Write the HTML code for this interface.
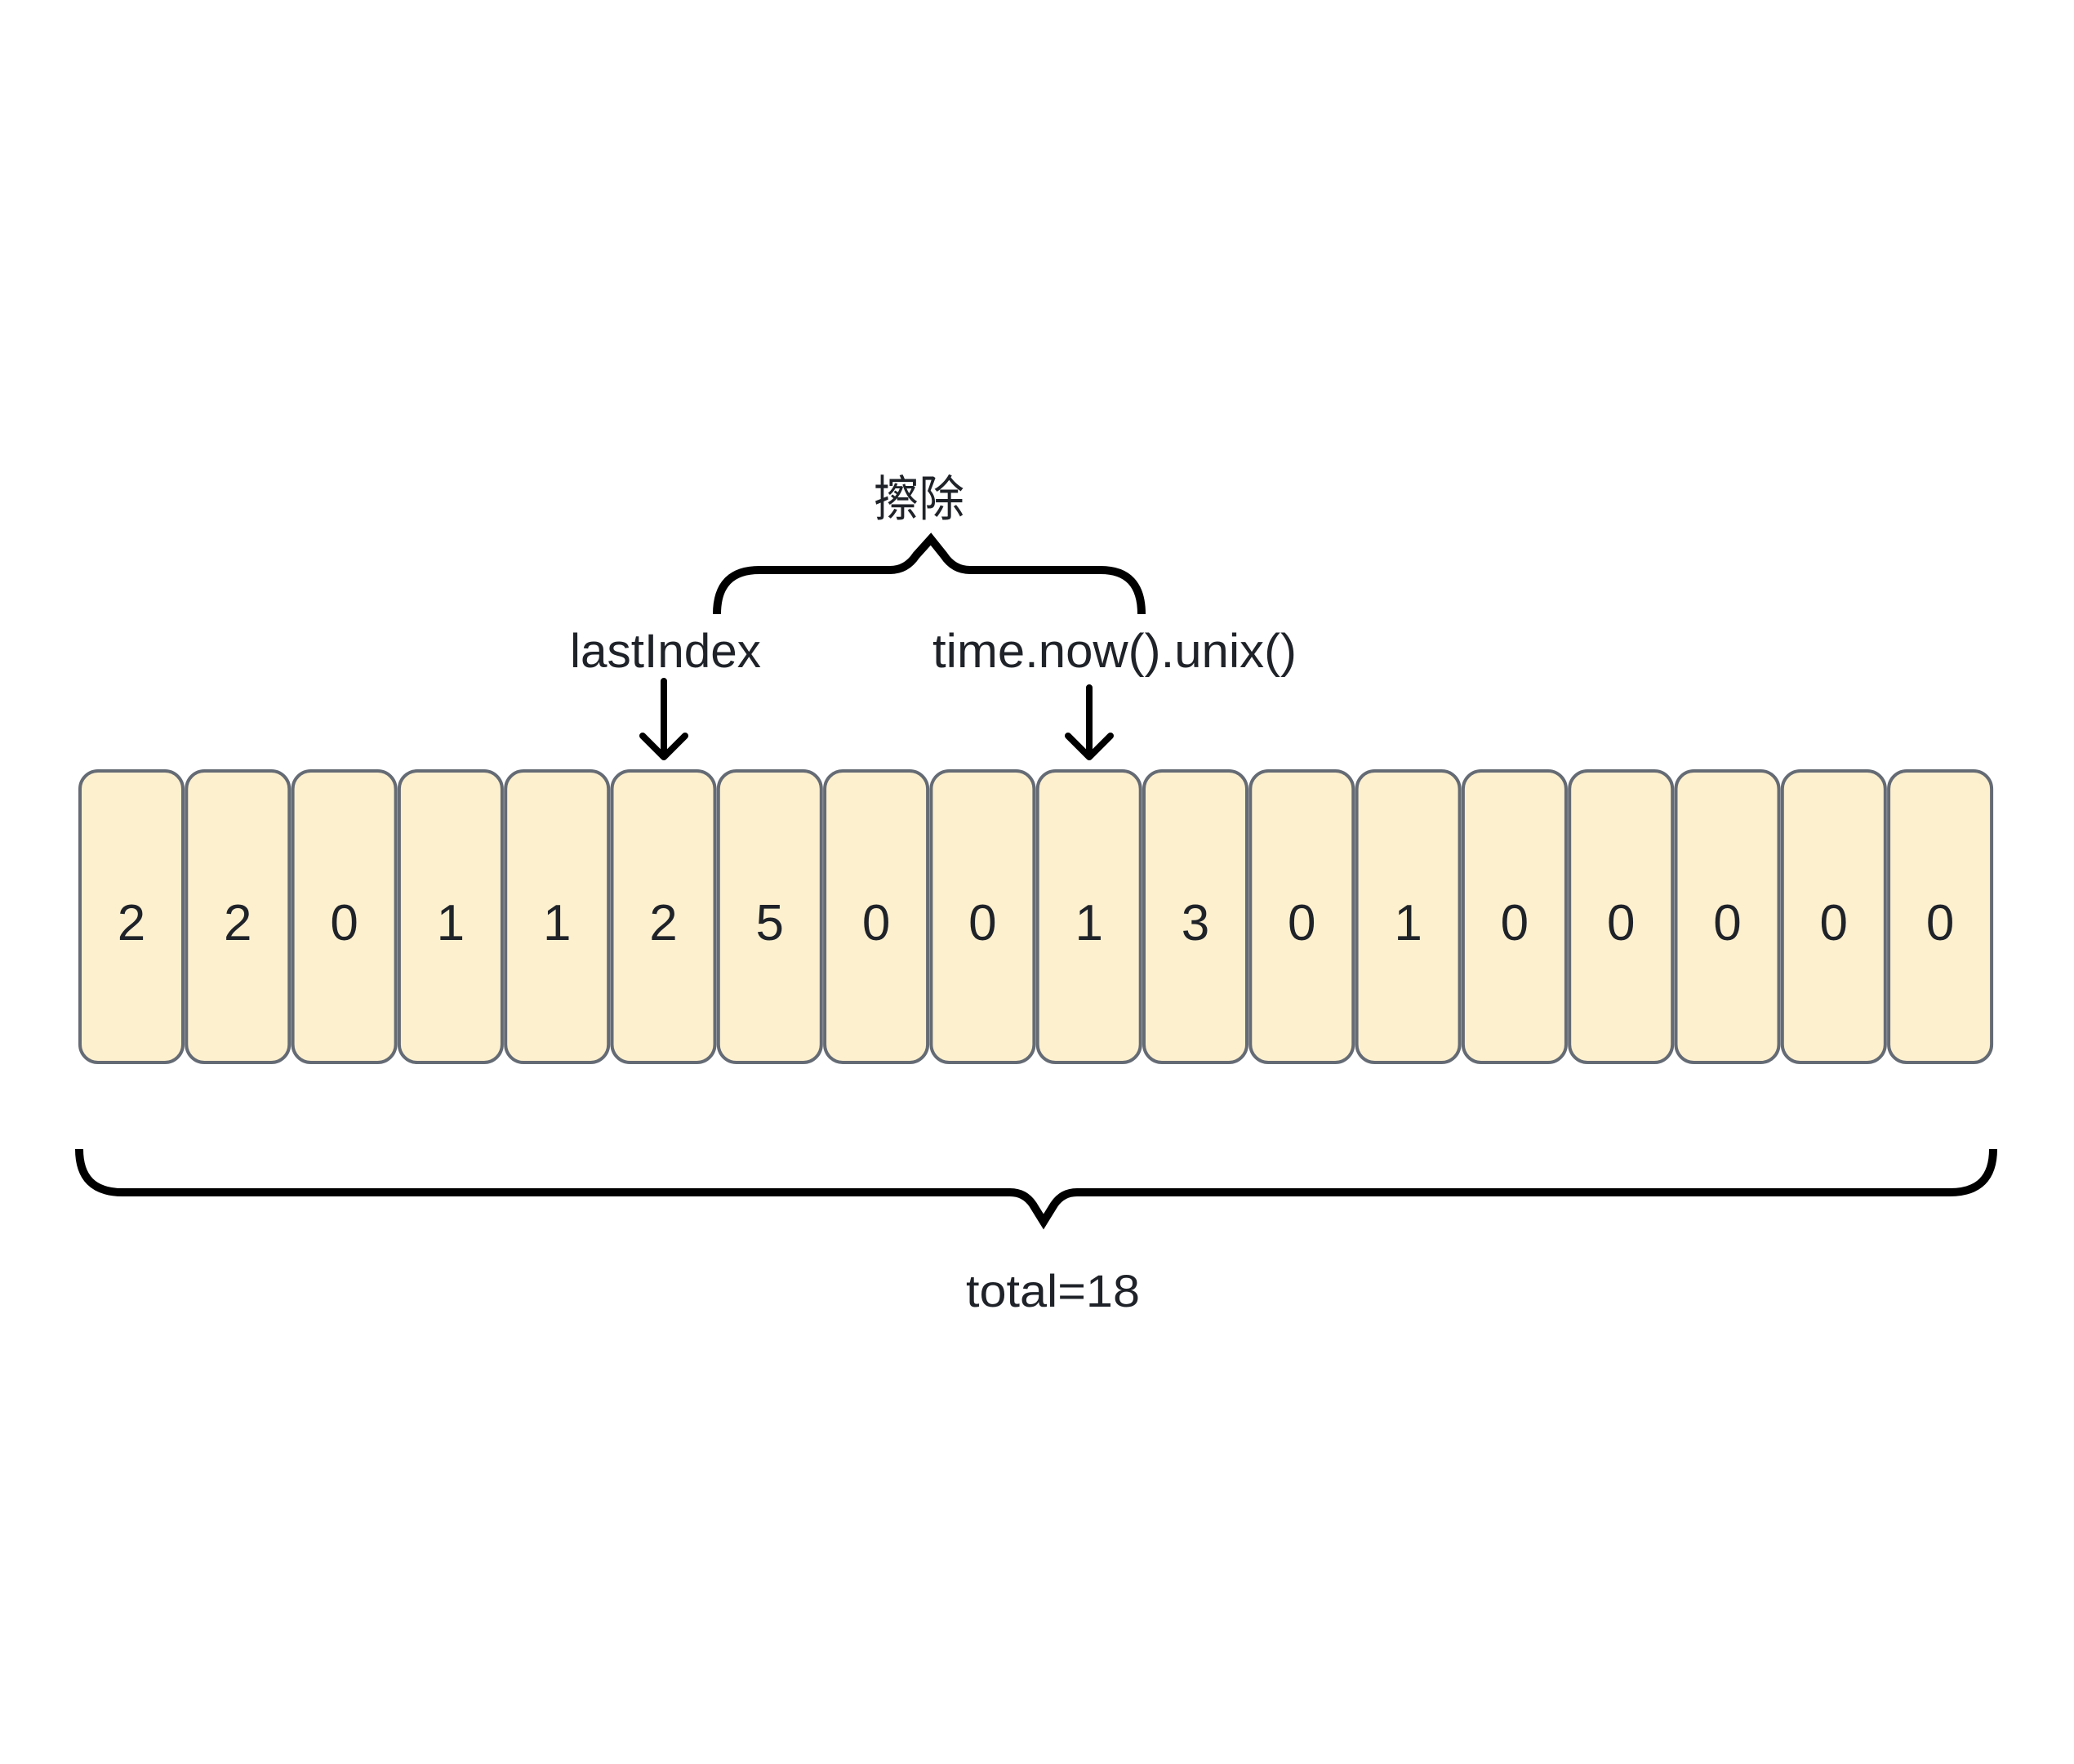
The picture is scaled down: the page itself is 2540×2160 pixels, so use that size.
<!DOCTYPE html>
<html><head><meta charset="utf-8"><style>
html,body{margin:0;padding:0;background:#fff;}
svg{display:block;}
text{font-family:"Liberation Sans","Noto Sans CJK SC",sans-serif;fill:#1f2329;}
</style></head><body>
<svg width="2540" height="2160" viewBox="0 0 2540 2160" xmlns="http://www.w3.org/2000/svg">
<rect width="2540" height="2160" fill="#fff"/>
<g fill="#fdf0cf" stroke="#656b74" stroke-width="4">
<rect x="98" y="944" width="126" height="357" rx="22"/>
<rect x="228.3" y="944" width="126" height="357" rx="22"/>
<rect x="358.6" y="944" width="126" height="357" rx="22"/>
<rect x="488.9" y="944" width="126" height="357" rx="22"/>
<rect x="619.2" y="944" width="126" height="357" rx="22"/>
<rect x="749.5" y="944" width="126" height="357" rx="22"/>
<rect x="879.8" y="944" width="126" height="357" rx="22"/>
<rect x="1010.1" y="944" width="126" height="357" rx="22"/>
<rect x="1140.4" y="944" width="126" height="357" rx="22"/>
<rect x="1270.7" y="944" width="126" height="357" rx="22"/>
<rect x="1401" y="944" width="126" height="357" rx="22"/>
<rect x="1531.3" y="944" width="126" height="357" rx="22"/>
<rect x="1661.6" y="944" width="126" height="357" rx="22"/>
<rect x="1791.9" y="944" width="126" height="357" rx="22"/>
<rect x="1922.2" y="944" width="126" height="357" rx="22"/>
<rect x="2052.5" y="944" width="126" height="357" rx="22"/>
<rect x="2182.8" y="944" width="126" height="357" rx="22"/>
<rect x="2313.1" y="944" width="126" height="357" rx="22"/>
</g>
<g font-size="62" text-anchor="middle">
<text x="161" y="1151">2</text>
<text x="291.3" y="1151">2</text>
<text x="421.6" y="1151">0</text>
<text x="551.9" y="1151">1</text>
<text x="682.2" y="1151">1</text>
<text x="812.5" y="1151">2</text>
<text x="942.8" y="1151">5</text>
<text x="1073.1" y="1151">0</text>
<text x="1203.4" y="1151">0</text>
<text x="1333.7" y="1151">1</text>
<text x="1464" y="1151">3</text>
<text x="1594.3" y="1151">0</text>
<text x="1724.6" y="1151">1</text>
<text x="1854.9" y="1151">0</text>
<text x="1985.2" y="1151">0</text>
<text x="2115.5" y="1151">0</text>
<text x="2245.8" y="1151">0</text>
<text x="2376.1" y="1151">0</text>
</g>
<g fill="none" stroke="#000" stroke-width="10" stroke-linejoin="miter">
<path d="M97 1407 Q97 1460 150 1460 L1237 1460 Q1255 1460 1265 1475 L1278 1496 L1291 1475 Q1301 1460 1319 1460 L2388 1460 Q2441 1460 2441 1407"/>
<path d="M878 752 Q878 698 930 698 L1090 698 Q1110 698 1122 680 L1140 660 L1156 680 Q1168 698 1188 698 L1348 698 Q1398 698 1398 752"/>
</g>
<g fill="none" stroke="#000" stroke-width="8" stroke-linecap="round" stroke-linejoin="round">
<path d="M813 834 L813 926 M787 901 L813 927 L839 901"/>
<path d="M1334 842 L1334 926 M1308 901 L1334 927 L1360 901"/>
</g>
<text x="1070" y="632" font-size="60" textLength="111" lengthAdjust="spacingAndGlyphs">擦除</text>
<text x="698" y="817" font-size="58" textLength="234" lengthAdjust="spacingAndGlyphs">lastIndex</text>
<text x="1142" y="817" font-size="58" textLength="446" lengthAdjust="spacingAndGlyphs">time.now().unix()</text>
<text x="1183" y="1600" font-size="56" textLength="213" lengthAdjust="spacingAndGlyphs">total=18</text>
</svg>
</body></html>
